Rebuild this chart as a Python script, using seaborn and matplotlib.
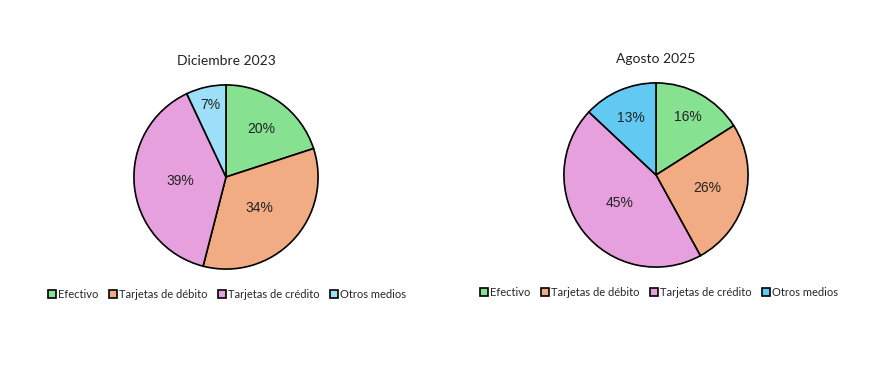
import matplotlib
matplotlib.use("Agg")
import matplotlib.pyplot as plt
import seaborn as sns

# datos
categorias = ["Efectivo", "Tarjetas de débito", "Tarjetas de crédito", "Otros medios"]
valores_2023 = [20, 34, 39, 7]
valores_2025 = [16, 26, 45, 13]
titulos = ["Diciembre 2023", "Agosto 2025"]

colores_2023 = ["#86E291", "#F2AC83", "#E6A0DD", "#9DDFF8"]
colores_2025 = ["#86E291", "#F2AC83", "#E6A0DD", "#62C9F3"]

# distancia de cada etiqueta al centro (como la pone Excel)
dist_2023 = [0.65, 0.49, 0.5, 0.8]
dist_2025 = [0.72, 0.57, 0.5, 0.68]

sns.set_theme(style="white")
plt.rcParams['font.family'] = ['Lato', 'DejaVu Sans']

W, H = 891, 365
fig = plt.figure(figsize=(W / 100, H / 100), dpi=100)

paneles = [
    (valores_2023, colores_2023, dist_2023, titulos[0], (226, 177), 61, (227, 294)),
    (valores_2025, colores_2025, dist_2025, titulos[1], (656, 175), 59, (659, 292)),
]
r = 93
for valores, colores, dists, titulo, (cx, cy), ty, (lx, ly) in paneles:
    ax = fig.add_axes([(cx - r) / W, (H - cy - r) / H, 2 * r / W, 2 * r / H])
    wedges, _, autotexts = ax.pie(
        valores, colors=colores, startangle=90, counterclock=False,
        autopct="%d%%", pctdistance=1.0,
        wedgeprops=dict(edgecolor="black", linewidth=1.2),
        textprops=dict(fontsize=10, family="Liberation Sans", color="#222222"),
    )
    for t, d in zip(autotexts, dists):
        x, y = t.get_position()
        t.set_position((x * d, y * d))
    ax.set_xlim(-1.01, 1.01)
    ax.set_ylim(-1.01, 1.01)
    ax.axis("off")
    fig.text(cx / W, 1 - ty / H, titulo, ha="center", va="center", fontsize=10, color="#222222")
    fig.legend(wedges, categorias, loc="center", bbox_to_anchor=(lx / W, 1 - ly / H),
               ncol=4, frameon=False, fontsize=8, handlelength=0.75, handleheight=0.75,
               handletextpad=0.15, columnspacing=0.95, borderpad=0)

fig.savefig("out.png", dpi=100, facecolor="white")
